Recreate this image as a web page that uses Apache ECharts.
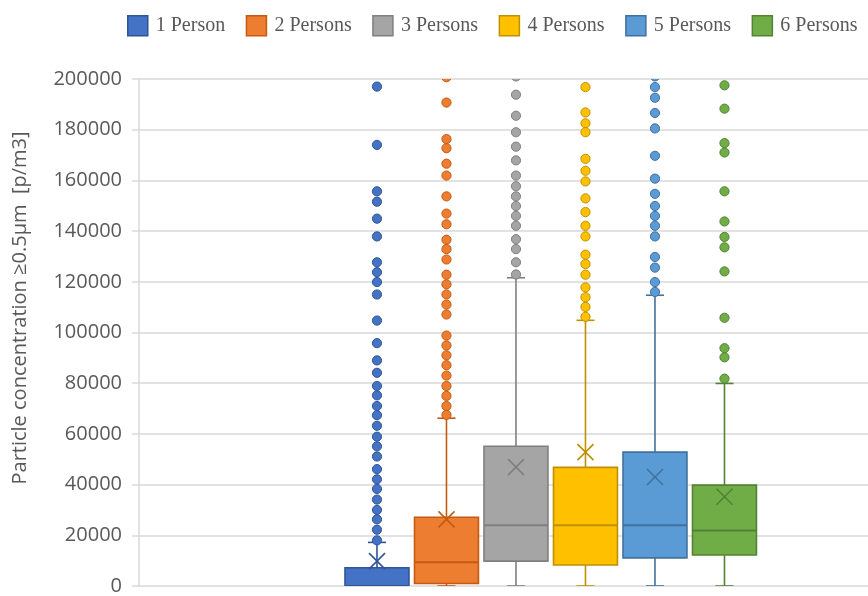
<!DOCTYPE html>
<html>
<head>
<meta charset="utf-8">
<title>Particle concentration by number of occupants</title>
<script src="https://cdn.jsdelivr.net/npm/echarts@6/dist/echarts.min.js"></script>
<style>
  html, body { margin: 0; padding: 0; background: #ffffff; }
  #chart { width: 868px; height: 596px; }
</style>
</head>
<body>
<div id="chart"></div>
<script>
// Occupancy groups
const groups = ['1 Person', '2 Persons', '3 Persons', '4 Persons', '5 Persons', '6 Persons'];

// Box-and-whisker statistics per group [p/m3]
const whiskerLow  = [0, 0, 0, 0, 0, 0];
const quartile1   = [0, 1000, 9800, 8300, 11100, 12200];
const medians     = [0, 9400, 24000, 24000, 24000, 21900];
const quartile3   = [7200, 27100, 55100, 46800, 52800, 39800];
const whiskerHigh = [17200, 66200, 121600, 104800, 114700, 79900];
const means       = [9800, 26300, 46900, 52800, 43000, 35200];

// Outliers per group [p/m3]
const outliers1 = [197000, 174000, 155700, 151600, 144900, 137900, 127700, 123800, 119900, 115000,
                   104700, 95800, 89000, 84100, 78900, 75200, 71000, 67400, 63200, 58900,
                   55100, 51100, 46100, 42100, 38300, 34100, 30000, 26300, 22200, 18000];
const outliers2 = [200700, 190700, 176300, 172700, 166600, 161900, 153700, 146900, 142700, 136600,
                   132900, 128800, 122800, 119000, 115000, 111000, 107100, 98800, 94900, 91000,
                   87100, 83000, 78900, 75000, 71000, 67500];
const outliers3 = [201000, 193800, 185500, 179000, 173300, 167900, 161900, 157700, 153700, 149900,
                   146000, 142100, 136800, 132900, 127700, 122900];
const outliers4 = [196800, 186800, 182500, 179000, 168500, 163800, 159600, 152900, 147500, 142100,
                   137900, 130700, 127000, 122800, 117800, 113900, 110100, 106200];
const outliers5 = [201000, 196800, 192600, 186600, 180500, 169700, 160700, 154700, 149900, 146000,
                   142100, 137900, 129800, 125600, 119900, 116000];
const outliers6 = [197500, 188300, 174700, 171000, 155700, 143800, 137700, 133600, 124100, 105800,
                   93800, 90200, 81800];
const outliers = [outliers1, outliers2, outliers3, outliers4, outliers5, outliers6];

// Y axis scale
const yMin = 0;
const yMax = 200000;
const yStep = 20000;

// Fill and outline colours
const fills = ['#4472C4', '#ED7D31', '#A5A5A5', '#FFC000', '#5B9BD5', '#70AD47'];
const lines = ['#2F5597', '#C55A11', '#7F7F7F', '#BF9000', '#41719C', '#548235'];

const chart = echarts.init(document.getElementById('chart'), null, { renderer: 'canvas' });

function renderBox(params, api) {
  const i = params.seriesIndex >> 1;
  const x = api.value(0);
  const lo = api.coord([x, api.value(1)]);
  const b1 = api.coord([x, api.value(2)]);
  const md = api.coord([x, api.value(3)]);
  const b3 = api.coord([x, api.value(4)]);
  const hi = api.coord([x, api.value(5)]);
  const mn = api.coord([x, api.value(6)]);
  const step = api.size([1, 0])[0];
  const cx = lo[0];
  const hw = step * 0.46;
  const cap = step * 0.13;
  const xs = 8;
  const stroke = { stroke: lines[i], lineWidth: 1.6 };
  return {
    type: 'group',
    children: [
      { type: 'line', shape: { x1: cx, y1: b3[1], x2: cx, y2: hi[1] }, style: stroke },
      { type: 'line', shape: { x1: cx - cap, y1: hi[1], x2: cx + cap, y2: hi[1] }, style: stroke },
      { type: 'line', shape: { x1: cx, y1: b1[1], x2: cx, y2: lo[1] }, style: stroke },
      { type: 'line', shape: { x1: cx - cap, y1: lo[1], x2: cx + cap, y2: lo[1] }, style: stroke },
      { type: 'rect', shape: { x: cx - hw, y: b3[1], width: hw * 2, height: b1[1] - b3[1] },
        style: { fill: fills[i], stroke: lines[i], lineWidth: 1.6 } },
      { type: 'line', shape: { x1: cx - hw, y1: md[1], x2: cx + hw, y2: md[1] },
        style: { stroke: lines[i], lineWidth: 2 } },
      { type: 'line', shape: { x1: cx - xs, y1: mn[1] - xs, x2: cx + xs, y2: mn[1] + xs }, style: stroke },
      { type: 'line', shape: { x1: cx - xs, y1: mn[1] + xs, x2: cx + xs, y2: mn[1] - xs }, style: stroke }
    ]
  };
}

function renderOutlier(params, api) {
  const i = params.seriesIndex >> 1;
  const p = api.coord([api.value(0), api.value(1)]);
  return {
    type: 'circle',
    shape: { cx: p[0], cy: p[1], r: 4.6 },
    style: { fill: fills[i], stroke: lines[i], lineWidth: 1 }
  };
}

const series = [];
groups.forEach(function (name, i) {
  series.push({
    name: name,
    type: 'custom',
    clip: true,
    renderItem: renderBox,
    itemStyle: { color: fills[i] },
    data: [[i, whiskerLow[i], quartile1[i], medians[i], quartile3[i], whiskerHigh[i], means[i]]],
    z: 3
  });
  series.push({
    name: name,
    type: 'custom',
    clip: true,
    renderItem: renderOutlier,
    itemStyle: { color: fills[i] },
    data: outliers[i].map(function (v) { return [i, v]; }),
    z: 4
  });
});

chart.setOption({
  animation: false,
  backgroundColor: '#ffffff',
  legend: {
    left: 127,
    top: 15,
    padding: 0,
    itemWidth: 20,
    itemHeight: 20,
    itemGap: 20.5,
    icon: 'rect',
    textStyle: {
      fontFamily: '"Liberation Serif", "Times New Roman", serif',
      fontSize: 20,
      color: '#595959',
      padding: [0, 0, 0, 3]
    },
    data: groups.map(function (name, i) {
      return { name: name, itemStyle: { color: fills[i], borderColor: lines[i], borderWidth: 1.5 } };
    })
  },
  grid: { left: 139, right: 0, top: 79, bottom: 6 },
  xAxis: {
    type: 'value',
    min: -3.424,
    max: 7.065,
    show: false
  },
  yAxis: {
    type: 'value',
    min: yMin,
    max: yMax,
    interval: yStep,
    axisLine: { show: true, onZero: false, lineStyle: { color: '#d9d9d9', width: 1.5 } },
    axisTick: { show: true, inside: false, length: 7, lineStyle: { color: '#d9d9d9', width: 1.5 } },
    splitLine: { show: true, lineStyle: { color: '#d9d9d9', width: 1.5 } },
    axisLabel: {
      margin: 17,
      fontFamily: '"Open Sans", sans-serif',
      fontSize: 20,
      color: '#595959',
      formatter: function (v) { return String(v); }
    }
  },
  graphic: [{
    type: 'text',
    x: 20,
    y: 308,
    rotation: Math.PI / 2,
    style: {
      text: 'Particle concentration \u22650.5\u03bcm  [p/m3]',
      fontFamily: '"Open Sans", sans-serif',
      fontSize: 20,
      fill: '#595959',
      align: 'center',
      verticalAlign: 'middle'
    }
  }],
  series: series
});
</script>
</body>
</html>
